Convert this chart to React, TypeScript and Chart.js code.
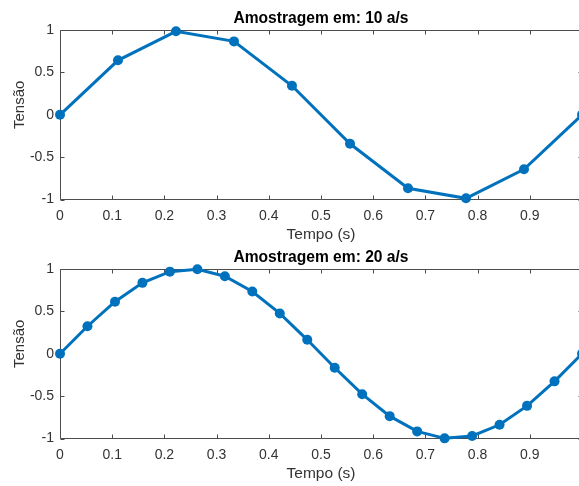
import React, { useEffect, useRef } from "react";
import { Chart, registerables } from "chart.js";
Chart.register(...registerables);

// ---- data ----
const tempo10 = [0, 0.1111, 0.2222, 0.3333, 0.4444, 0.5556, 0.6667, 0.7778, 0.8889, 1.0];
const tensao10 = [0, 0.643, 0.985, 0.866, 0.342, -0.342, -0.866, -0.985, -0.643, 0];

const tempo20 = [0, 0.0526, 0.1053, 0.1579, 0.2105, 0.2632, 0.3158, 0.3684, 0.4211, 0.4737,
  0.5263, 0.5789, 0.6316, 0.6842, 0.7368, 0.7895, 0.8421, 0.8947, 0.9474, 1.0];
const tensao20 = [0, 0.325, 0.614, 0.837, 0.969, 0.997, 0.915, 0.735, 0.476, 0.165,
  -0.165, -0.476, -0.735, -0.915, -0.997, -0.969, -0.837, -0.614, -0.325, 0];

const xTickValues = [0, 0.1, 0.2, 0.3, 0.4, 0.5, 0.6, 0.7, 0.8, 0.9, 1];
const yTickValues = [-1, -0.5, 0, 0.5, 1];

const titulo10 = "Amostragem em: 10 a/s";
const titulo20 = "Amostragem em: 20 a/s";
const xLabel = "Tempo (s)";
const yLabel = "Tensão";

// ---- layout / style ----
const W = 642;
const H = 245;
const AREA_LEFT = 60;
const AREA_BOTTOM = 199.6;
const RIGHT_GAP = 60;
const FONT = 'Arial, "Liberation Sans", Helvetica, sans-serif';
const LINE_COLOR = "#0072BD";
const AXIS_COLOR = "#4d4d4d";
const TEXT_COLOR = "#333333";

const boxPlugin = {
  id: "matlabBox",
  beforeDatasetsDraw(chart: any) {
    const { ctx, chartArea: a, scales } = chart;
    const x = scales.x;
    const y = scales.y;
    const L = Math.round(a.left) + 0.5;
    const R = Math.round(a.right) + 0.5;
    const T = Math.round(a.top) + 0.5;
    const B = Math.floor(a.bottom) + 0.5;
    ctx.save();
    ctx.strokeStyle = AXIS_COLOR;
    ctx.lineWidth = 1;
    ctx.beginPath();
    ctx.moveTo(L, T); ctx.lineTo(R, T); ctx.lineTo(R, B); ctx.lineTo(L, B); ctx.closePath();
    const tl = 4;
    xTickValues.forEach((v) => {
      const px = Math.round(x.getPixelForValue(v)) + 0.5;
      ctx.moveTo(px, T); ctx.lineTo(px, T + tl);
      ctx.moveTo(px, B); ctx.lineTo(px, B - tl);
    });
    yTickValues.forEach((v) => {
      const py = Math.round(y.getPixelForValue(v)) + 0.5;
      ctx.moveTo(L, py); ctx.lineTo(L + tl, py);
      ctx.moveTo(R, py); ctx.lineTo(R - tl, py);
    });
    ctx.stroke();
    ctx.restore();
  },
};

const yLabelPlugin = {
  id: "yLabel",
  afterDraw(chart: any) {
    const { ctx, chartArea: a } = chart;
    const cy = (a.top + a.bottom) / 2 - 10;
    ctx.save();
    ctx.translate(23.5, cy);
    ctx.rotate(-Math.PI / 2);
    ctx.font = `15px ${FONT}`;
    ctx.fillStyle = TEXT_COLOR;
    ctx.textAlign = "center";
    ctx.textBaseline = "alphabetic";
    ctx.fillText(yLabel, 0, 0);
    ctx.restore();
  },
};

function Panel({ tempo, tensao, titulo, top }: { tempo: number[]; tensao: number[]; titulo: string; top: number }) {
  const ref = useRef<HTMLCanvasElement | null>(null);
  useEffect(() => {
    if (!ref.current) return;
    const chart = new Chart(ref.current, {
      type: "line",
      data: {
        datasets: [
          {
            data: tempo.map((t, i) => ({ x: t, y: tensao[i] })),
            borderColor: LINE_COLOR,
            backgroundColor: LINE_COLOR,
            borderWidth: 3,
            pointRadius: 5,
            pointHoverRadius: 5,
            pointBorderWidth: 0,
            pointBackgroundColor: LINE_COLOR,
            tension: 0,
            clip: false as any,
          },
        ],
      },
      options: {
        responsive: false,
        animation: false,
        events: [],
        layout: { padding: 0 },
        plugins: {
          legend: { display: false },
          tooltip: { enabled: false },
          title: {
            display: true,
            text: titulo,
            color: "#000000",
            font: { family: FONT, size: 15.6, weight: "bold", lineHeight: 1.2 },
            padding: { top: 9.3, bottom: 2 },
          },
        },
        scales: {
          x: {
            type: "linear",
            min: 0,
            max: 1,
            afterBuildTicks: (s: any) => {
              s.ticks = xTickValues.map((v) => ({ value: v }));
            },
            afterFit: (s: any) => {
              s.height = H - AREA_BOTTOM;
            },
            grid: { display: false, drawTicks: false },
            border: { display: false },
            ticks: {
              color: TEXT_COLOR,
              font: { family: FONT, size: 14 },
              padding: 8,
              maxRotation: 0,
              autoSkip: false,
              callback: (v: any) => (Number(v) >= 1 ? "" : String(Math.round(Number(v) * 10) / 10)),
            },
            title: {
              display: true,
              text: xLabel,
              color: TEXT_COLOR,
              font: { family: FONT, size: 15.5, lineHeight: 1.2 },
              padding: { top: 0, bottom: 1.4 },
            },
          },
          y: {
            type: "linear",
            position: "left",
            min: -1,
            max: 1,
            afterBuildTicks: (s: any) => {
              s.ticks = yTickValues.map((v) => ({ value: v }));
            },
            afterFit: (s: any) => {
              s.width = AREA_LEFT;
            },
            grid: { display: false, drawTicks: false },
            border: { display: false },
            ticks: {
              color: TEXT_COLOR,
              font: { family: FONT, size: 14 },
              padding: 6,
              autoSkip: false,
              callback: (v: any) => String(v),
            },
          },
          yRight: {
            type: "linear",
            position: "right",
            display: true,
            min: -1,
            max: 1,
            afterFit: (s: any) => {
              s.width = RIGHT_GAP;
            },
            grid: { display: false, drawTicks: false },
            border: { display: false },
            ticks: { display: false },
          },
        },
      } as any,
      plugins: [boxPlugin, yLabelPlugin],
    });
    return () => chart.destroy();
  }, []);
  return (
    <canvas
      ref={ref}
      width={W}
      height={H}
      style={{ position: "absolute", left: 0, top, width: W, height: H }}
    />
  );
}

export default function App() {
  return (
    <div
      style={{
        position: "absolute",
        left: 0,
        top: 0,
        width: 579,
        height: 486,
        overflow: "hidden",
        background: "#ffffff",
      }}
    >
      <Panel tempo={tempo10} tensao={tensao10} titulo={titulo10} top={0} />
      <Panel tempo={tempo20} tensao={tensao20} titulo={titulo20} top={239} />
    </div>
  );
}
